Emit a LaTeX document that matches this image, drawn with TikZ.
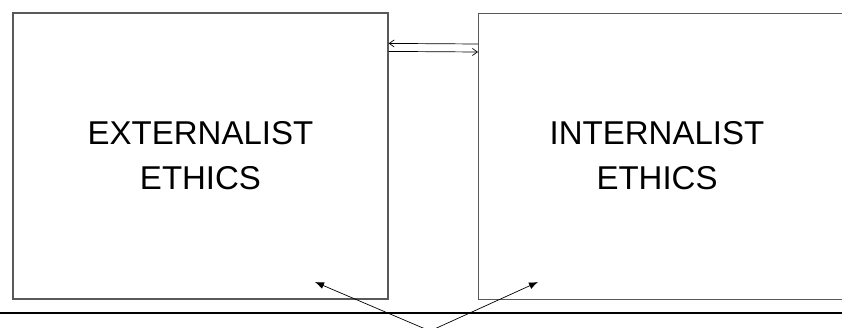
\documentclass[tikz,border=0pt]{standalone}
\usepackage{fontspec}
\setmainfont{Liberation Sans}
\usetikzlibrary{arrows.meta}
\tikzset{
  ethicsbox/.style={draw=black!65, line width=1.2pt, minimum width=375pt, minimum height=286pt, inner sep=0pt},
  ethicstext/.style={font=\fontsize{33}{45}\selectfont, align=center},
  linkarrow/.style={-{Straight Barb[length=5pt,width=7pt]}, line width=0.7pt},
  pointarrow/.style={-{Latex[length=9pt,width=7pt]}, line width=0.7pt}
}
\begin{document}
\begin{tikzpicture}[x=1pt,y=-1pt]
                \useasboundingbox (0,0) rectangle (842,327);
                \begin{scope}
                \node[ethicsbox] (ext) at (200.5,156) {};
                \node[ethicstext] (exttext) at (ext.center) {EXTERNALIST\\ETHICS};
                \end{scope}
            \begin{scope}
                \node[ethicsbox, minimum width=400pt, anchor=north west] (int) at (478,13) {};
                \node[ethicstext] (inttext) at (657,156) {INTERNALIST\\ETHICS};
            \end{scope}
            \draw[linkarrow] ([yshift=-31pt]int.north west) -- ([yshift=-31pt]ext.north east);
            \draw[linkarrow] ([yshift=-39pt]ext.north east) -- ([yshift=-39pt]int.north west);

            \coordinate (floorL) at (0,313);
            \coordinate (floorR) at (842,313);
            \draw[line width=2.6pt] (floorL) -- (floorR);

            \coordinate (src) at (430,331);
            \coordinate (extpt) at (315,282);
            \coordinate (intpt) at (538,282);
            \draw[pointarrow] (src) -- (extpt);
            \draw[pointarrow] (src) -- (intpt);

            \end{tikzpicture}
\end{document}
